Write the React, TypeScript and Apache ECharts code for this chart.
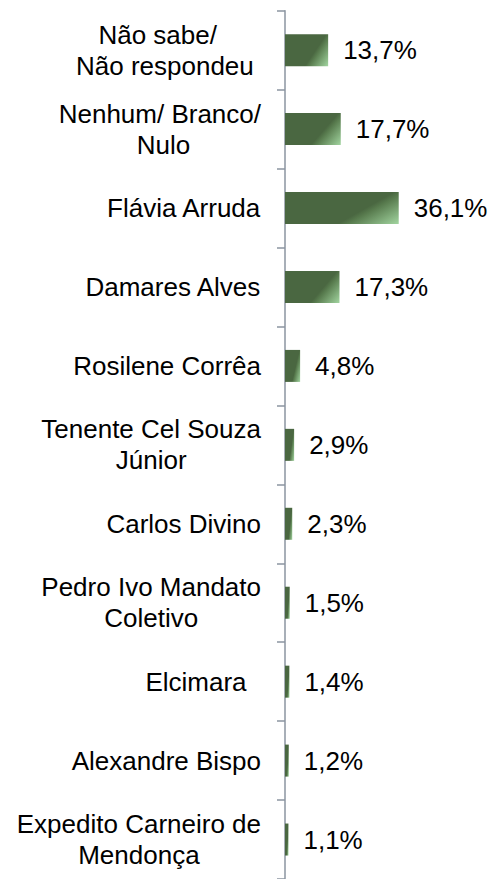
import React, { useEffect, useRef } from "react";
import * as echarts from "echarts";

const categories = [
  "Não sabe/   \nNão respondeu ",
  "Nenhum/ Branco/\n Nulo",
  "Flávia Arruda",
  "Damares Alves",
  "Rosilene Corrêa",
  "Tenente Cel Souza\nJúnior",
  "Carlos Divino",
  "Pedro Ivo Mandato\nColetivo",
  "Elcimara  ",
  "Alexandre Bispo",
  "Expedito Carneiro de\nMendonça",
];
const values = [13.7, 17.7, 36.1, 17.3, 4.8, 2.9, 2.3, 1.5, 1.4, 1.2, 1.1];

const FONT = "'Liberation Sans', Arial, Helvetica, sans-serif";
const AXIS_COLOR = "#8b95a0";

export default function App() {
  const ref = useRef<HTMLDivElement>(null);
  useEffect(() => {
    if (!ref.current) return;
    const chart = echarts.init(ref.current, undefined, { renderer: "svg" });
    const barColor = new echarts.graphic.LinearGradient(0, 0, 1.2, 0.6, [
      { offset: 0, color: "#4a6741" },
      { offset: 0.64, color: "#4a6741" },
      { offset: 0.7, color: "#587b4e" },
      { offset: 1, color: "#a2d5a0" },
    ]);
    chart.setOption({
      animation: false,
      backgroundColor: "#ffffff",
      grid: { left: 285, right: 19, top: 10.7, height: 870 },
      xAxis: {
        type: "value",
        min: 0,
        max: 60,
        show: false,
      },
      yAxis: {
        type: "category",
        inverse: true,
        data: categories,
        axisLine: { show: true, lineStyle: { color: AXIS_COLOR, width: 1.5 } },
        axisTick: { show: true, length: 8, lineStyle: { color: AXIS_COLOR, width: 1.5 } },
        splitLine: { show: false },
        axisLabel: {
          margin: 24,
          fontSize: 26,
          fontFamily: FONT,
          color: "#000",
          lineHeight: 31,
          formatter: (v: string) =>
            v
              .split("\n")
              .map((l) => `{c|${l}}`)
              .join("\n"),
          rich: {
            c: {
              align: "center",
              fontSize: 26,
              fontFamily: FONT,
              color: "#000",
              lineHeight: 31,
            },
          },
        },
      },
      series: [
        {
          type: "bar",
          data: values,
          barWidth: 32,
          itemStyle: { color: barColor },
          label: {
            show: true,
            position: "right",
            distance: 15,
            fontSize: 26,
            fontFamily: FONT,
            color: "#000",
            formatter: (p: any) => p.value.toFixed(1).replace(".", ",") + "%",
          },
        },
      ],
    });
    return () => chart.dispose();
  }, []);
  return (
    <div
      ref={ref}
      style={{ position: "absolute", left: 0, top: 0, width: 493, height: 879 }}
    />
  );
}
